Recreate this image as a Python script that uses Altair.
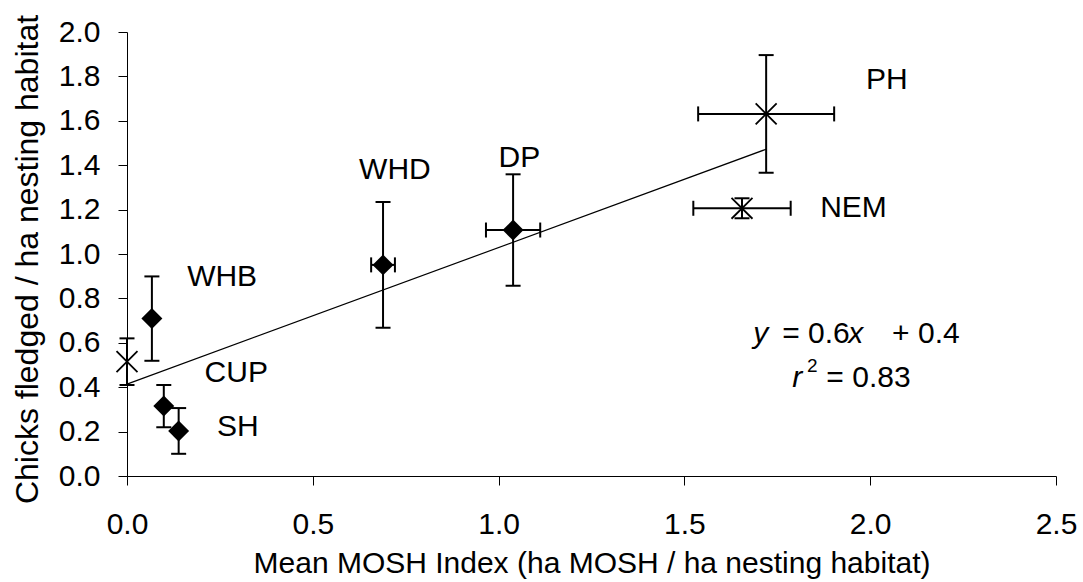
import altair as alt
import pandas as pd

# ---- data ----
sites = ["", "WHB", "CUP", "SH", "WHD", "DP", "NEM", "PH"]
marker = ["cross", "diamond", "diamond", "diamond", "diamond", "diamond", "cross", "cross"]
mosh = [0.0, 0.067, 0.099, 0.139, 0.689, 1.039, 1.655, 1.72]
mosh_err = [0.0, 0.0, 0.0, 0.0, 0.032, 0.073, 0.131, 0.183]
chicks = [0.515, 0.709, 0.315, 0.203, 0.951, 1.108, 1.206, 1.631]
chicks_err = [0.105, 0.19, 0.095, 0.103, 0.283, 0.251, 0.045, 0.265]

# regression line endpoints (y = 0.6x + 0.4)
line_x = [0.0, 1.72]
line_y = [0.414, 1.472]

# site labels
label_text = ["PH", "NEM", "DP", "WHD", "WHB", "CUP", "SH"]
label_x = [2.045, 1.955, 1.056, 0.721, 0.256, 0.294, 0.298]
label_y = [1.784, 1.206, 1.431, 1.378, 0.895, 0.463, 0.222]

# equation pieces
eq_text = ["y", "= 0.6", "x", "+ 0.4", "r", "2", "= 0.83"]
eq_x = [1.685, 1.763, 1.941, 2.059, 1.790, 1.830, 1.882]
eq_y = [0.598, 0.598, 0.598, 0.598, 0.400, 0.470, 0.400]
eq_style = ["italic", "normal", "italic", "normal", "italic", "sup", "normal"]

df = pd.DataFrame({
    "site": sites, "marker": marker, "mosh": mosh, "mosh_err": mosh_err,
    "chicks": chicks, "chicks_err": chicks_err,
})
df["ylo"] = df["chicks"] - df["chicks_err"]
df["yhi"] = df["chicks"] + df["chicks_err"]
df["xlo"] = df["mosh"] - df["mosh_err"]
df["xhi"] = df["mosh"] + df["mosh_err"]
dfx = df[df["mosh_err"] > 0]

line_df = pd.DataFrame({"x": line_x, "y": line_y})
lab_df = pd.DataFrame({"t": label_text, "x": label_x, "y": label_y})
eq_df = pd.DataFrame({"t": eq_text, "x": eq_x, "y": eq_y, "s": eq_style})

FONT = "Liberation Sans"
xs = alt.Scale(domain=[0, 2.5], nice=False, zero=False)
ys = alt.Scale(domain=[0, 2.0], nice=False, zero=False)
xaxis = alt.Axis(values=[0, 0.5, 1.0, 1.5, 2.0, 2.5], format=".1f", grid=False,
                 title="Mean MOSH Index (ha MOSH / ha nesting habitat)",
                 labelPadding=24, titleY=96, titleBaseline="alphabetic")
yaxis = alt.Axis(values=[0, 0.2, 0.4, 0.6, 0.8, 1.0, 1.2, 1.4, 1.6, 1.8, 2.0],
                 format=".1f", grid=False,
                 title="Chicks fledged / ha nesting habitat",
                 labelPadding=18, titleX=-90, titleY=227, titleAngle=-90,
                 titleAlign="center", titleBaseline="alphabetic", titleFontSize=32)


def X(f):
    return alt.X(f, type="quantitative", scale=xs, axis=xaxis)


def Y(f):
    return alt.Y(f, type="quantitative", scale=ys, axis=yaxis)


black = "#000000"

ybars = alt.Chart(df).mark_rule(color=black, strokeWidth=2, opacity=1).encode(
    x=X("mosh"), y=Y("ylo"), y2="yhi")
ycap_lo = alt.Chart(df).mark_tick(color=black, orient="horizontal", size=15, thickness=2, opacity=1).encode(
    x=X("mosh"), y=Y("ylo"))
ycap_hi = alt.Chart(df).mark_tick(color=black, orient="horizontal", size=15, thickness=2, opacity=1).encode(
    x=X("mosh"), y=Y("yhi"))
xbars = alt.Chart(dfx).mark_rule(color=black, strokeWidth=2, opacity=1).encode(
    x=X("xlo"), x2="xhi", y=Y("chicks"))
xcap_lo = alt.Chart(dfx).mark_tick(color=black, orient="vertical", size=15, thickness=2, opacity=1).encode(
    x=X("xlo"), y=Y("chicks"))
xcap_hi = alt.Chart(dfx).mark_tick(color=black, orient="vertical", size=15, thickness=2, opacity=1).encode(
    x=X("xhi"), y=Y("chicks"))

reg = alt.Chart(line_df).mark_line(color=black, strokeWidth=1.2).encode(x=X("x"), y=Y("y"))

diamonds = alt.Chart(df[df["marker"] == "diamond"]).mark_point(
    shape="diamond", filled=True, color=black, opacity=1, size=440).encode(
    x=X("mosh"), y=Y("chicks"))
crosses = alt.Chart(df[df["marker"] == "cross"]).mark_point(
    shape="M-1,-1L1,1M-1,1L1,-1", filled=False, color=black, opacity=1,
    strokeWidth=1.8, size=440).encode(x=X("mosh"), y=Y("chicks"))

labels = alt.Chart(lab_df).mark_text(
    font=FONT, fontSize=30, color=black, align="center", baseline="middle").encode(
    x=X("x"), y=Y("y"), text="t")

eq_it = alt.Chart(eq_df[eq_df["s"] == "italic"]).mark_text(
    font=FONT, fontSize=30, fontStyle="italic", color=black, align="left",
    baseline="alphabetic").encode(x=X("x"), y=Y("y"), text="t")
eq_no = alt.Chart(eq_df[eq_df["s"] == "normal"]).mark_text(
    font=FONT, fontSize=30, color=black, align="left",
    baseline="alphabetic").encode(x=X("x"), y=Y("y"), text="t")
eq_sup = alt.Chart(eq_df[eq_df["s"] == "sup"]).mark_text(
    font=FONT, fontSize=19, color=black, align="left",
    baseline="alphabetic").encode(x=X("x"), y=Y("y"), text="t")

chart = alt.layer(
    reg, ybars, ycap_lo, ycap_hi, xbars, xcap_lo, xcap_hi, diamonds, crosses, labels,
    eq_it, eq_no, eq_sup
).properties(
    width=929, height=444,
    autosize=alt.AutoSizeParams(type="none"),
    padding={"left": 127, "top": 32, "right": 27, "bottom": 106},
    background="white",
).configure_view(stroke=None).configure_axis(
    labelFont=FONT, titleFont=FONT, labelFontSize=30, titleFontSize=30,
    labelColor=black, titleColor=black, titleFontWeight="normal",
    domainColor=black, tickColor=black, domainWidth=1, tickWidth=1, tickSize=9,
    labelFlush=False, labelOverlap=False,
)

chart.save("out.html", embed_options={"renderer": "svg", "actions": False})
